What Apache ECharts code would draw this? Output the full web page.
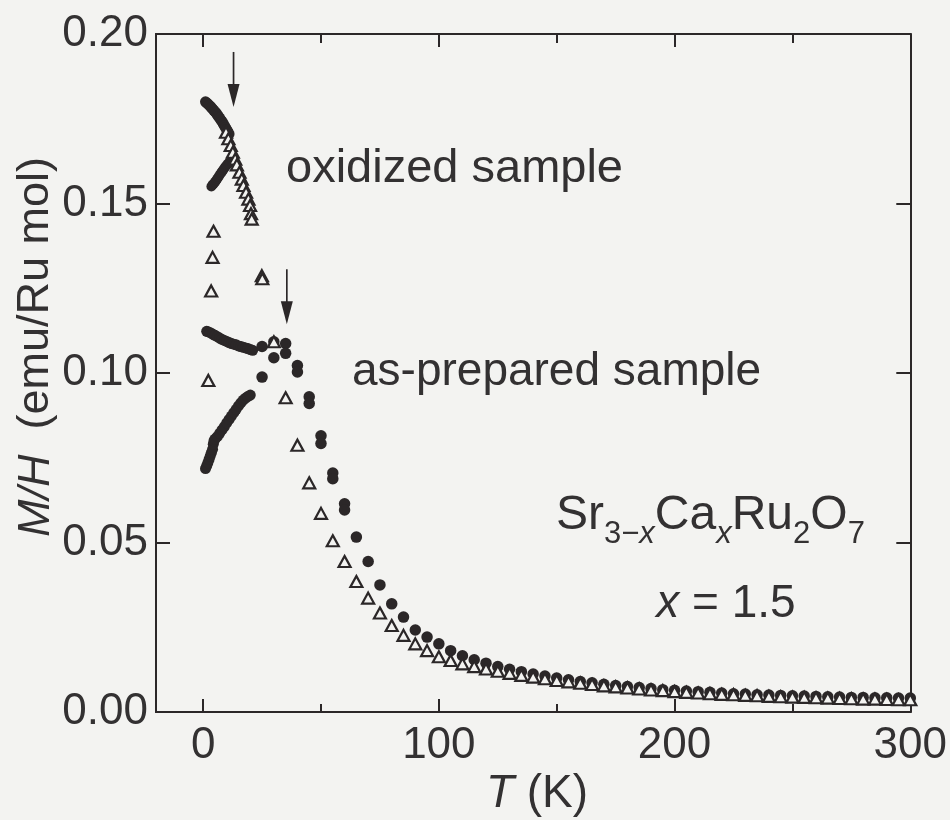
<!DOCTYPE html>
<html>
<head>
<meta charset="utf-8" />
<title>Sr3-xCaxRu2O7 M/H</title>
<script src="https://cdn.jsdelivr.net/npm/echarts@6/dist/echarts.min.js"></script>
<style>
  html, body { margin: 0; padding: 0; background: #f3f3f1; }
  #main { width: 950px; height: 820px; }
</style>
</head>
<body>
<div id="main"></div>
<script>
// axis ticks
var xMajorTicks = [0, 100, 200, 300];
var xMinorTicks = [50, 150, 250];

// oxidized sample, dense filled branch (upper, from lowest T)
var oxUpper = [
  [1.0, 0.1800], [1.5, 0.1797], [2.0, 0.1794], [2.5, 0.1790], [3.0, 0.1787], [3.5, 0.1783],
  [4.0, 0.1779], [4.5, 0.1775], [5.0, 0.1771], [5.5, 0.1767], [6.0, 0.1762], [6.5, 0.1757],
  [7.0, 0.1752], [7.5, 0.1747], [8.0, 0.1742], [8.5, 0.1736], [9.0, 0.1730], [9.5, 0.1724],
  [10.0, 0.1718], [10.5, 0.1712], [11.0, 0.1705]
];
// oxidized sample, dense filled branch (lower)
var oxLower = [
  [3.5, 0.1550], [4.0, 0.1555], [4.5, 0.1558], [5.0, 0.1563], [5.5, 0.1568], [6.0, 0.1573],
  [6.5, 0.1578], [7.0, 0.1584], [7.5, 0.1589], [8.0, 0.1594], [8.5, 0.1599], [9.0, 0.1604],
  [9.5, 0.1609], [10.0, 0.1613], [10.5, 0.1617], [11.0, 0.1620], [11.5, 0.1623], [12.0, 0.1626],
  [12.5, 0.1627], [13.0, 0.1628]
];
// oxidized sample, open triangles
var oxTriangles = [
  [2.2, 0.0978], [3.4, 0.1242], [4.0, 0.1341], [4.4, 0.1418],
  [9.7, 0.1710], [10.7, 0.1691], [11.7, 0.1671], [12.6, 0.1651], [13.6, 0.1631], [14.3, 0.1614],
  [15.4, 0.1592], [16.4, 0.1572], [17.1, 0.1553], [18.2, 0.1533], [19.2, 0.1513], [19.9, 0.1494],
  [20.3, 0.1470], [20.6, 0.1454],
  [24.9, 0.1287], [25.1, 0.1278], [30, 0.1092], [35, 0.0927], [40, 0.0787], [45, 0.0676],
  [50, 0.0586], [55, 0.0505], [60, 0.0444], [65, 0.0385], [70, 0.0336], [75, 0.0292],
  [80, 0.0255], [85, 0.0226], [90, 0.0201], [95, 0.0181], [100, 0.0163], [105, 0.0152],
  [110, 0.0142], [115, 0.0134], [120, 0.0127], [125, 0.0120], [130, 0.0114], [135, 0.0108],
  [140, 0.0103], [145, 0.0098], [150, 0.0093], [155, 0.0089], [160, 0.0085], [165, 0.0081],
  [170, 0.0077], [175, 0.0074], [180, 0.0071], [185, 0.0068], [190, 0.0065], [195, 0.0063],
  [200, 0.0060], [205, 0.0058], [210, 0.0056], [215, 0.0054], [220, 0.0052], [225, 0.0051],
  [230, 0.0049], [235, 0.0048], [240, 0.0046], [245, 0.0045], [250, 0.0044], [255, 0.0043],
  [260, 0.0042], [265, 0.0041], [270, 0.0040], [275, 0.0039], [280, 0.0038], [285, 0.0038],
  [290, 0.0037], [295, 0.0036], [300, 0.0036]
];

// as-prepared sample, dense filled branch (upper)
var apUpper = [
  [1.5, 0.1123], [2, 0.1122], [3, 0.1119], [4, 0.1115], [5, 0.1111], [6, 0.1107], [7, 0.1103],
  [8, 0.1099], [9, 0.1096], [10, 0.1093], [11, 0.1090], [12, 0.1087], [13, 0.1085], [14, 0.1083],
  [15, 0.1080], [16, 0.1078], [17, 0.1076], [18, 0.1074], [19, 0.1072], [20, 0.1069], [21, 0.1067]
];
// as-prepared sample, dense filled branch (lower)
var apLower = [
  [1.0, 0.0718], [1.5, 0.0726], [2.0, 0.0735], [2.5, 0.0745], [3.0, 0.0755], [3.5, 0.0765],
  [4.0, 0.0775], [4.3, 0.0790], [4.6, 0.0800], [5, 0.0805], [6, 0.0812], [7, 0.0822],
  [8, 0.0832], [9, 0.0842], [10, 0.0853], [11, 0.0863], [12, 0.0873], [13, 0.0883],
  [14, 0.0893], [15, 0.0903], [16, 0.0912], [17, 0.0920], [18, 0.0926], [19, 0.0931], [20, 0.0935]
];
// as-prepared sample, filled circles at higher T
var apCircles = [
  [25, 0.1078], [25, 0.0988], [30, 0.1092], [30, 0.1045], [35, 0.1087], [35, 0.1058],
  [40, 0.1022], [40, 0.1003], [45, 0.0930], [45, 0.0910], [50, 0.0815], [50, 0.0792],
  [55, 0.0705], [55, 0.0688], [60, 0.0614], [60, 0.0596], [65, 0.0516], [70, 0.0444],
  [75, 0.0375], [80, 0.0319], [85, 0.0280], [90, 0.0242], [95, 0.0221], [100, 0.0201],
  [105, 0.0181], [110, 0.0166], [115, 0.0154], [120, 0.0144], [125, 0.0134], [130, 0.0126],
  [135, 0.0119], [140, 0.0112], [145, 0.0106], [150, 0.0100], [155, 0.0095], [160, 0.0090],
  [165, 0.0086], [170, 0.0082], [175, 0.0078], [180, 0.0075], [185, 0.0072], [190, 0.0069],
  [195, 0.0066], [200, 0.0064], [205, 0.0062], [210, 0.0060], [215, 0.0058], [220, 0.0056],
  [225, 0.0054], [230, 0.0053], [235, 0.0051], [240, 0.0050], [245, 0.0049], [250, 0.0048],
  [255, 0.0047], [260, 0.0046], [265, 0.0045], [270, 0.0044], [275, 0.0043], [280, 0.0043],
  [285, 0.0042], [290, 0.0042], [295, 0.0041], [300, 0.0041]
];

// arrows: [T, top, tip]
var arrows = [
  [12.9, 0.1947, 0.1785],
  [35.5, 0.1306, 0.1144]
];

var ink = '#2b2728';
var txt = '#333132';
var font = '"Liberation Sans", Arial, Helvetica, sans-serif';

var chart = echarts.init(document.getElementById('main'));

function xAxisDef(pos, ticks, len, labels) {
  return {
    type: 'value', position: pos, min: -20, max: 300,
    axisLine: { show: true, onZero: false, lineStyle: { color: ink, width: 2 } },
    axisTick: { show: true, inside: true, length: len, customValues: ticks, lineStyle: { color: ink, width: 2 } },
    axisLabel: labels ? { show: true, customValues: xMajorTicks, fontSize: 44, fontFamily: font, color: txt, margin: 12 } : { show: false },
    splitLine: { show: false }
  };
}
function yAxisDef(pos, labels) {
  return {
    type: 'value', position: pos, min: 0, max: 0.2, interval: 0.05,
    axisLine: { show: true, onZero: false, lineStyle: { color: ink, width: 2 } },
    axisTick: { show: true, inside: true, length: 14, lineStyle: { color: ink, width: 2 } },
    axisLabel: labels ? { show: true, fontSize: 44, fontFamily: font, color: txt, margin: 8,
      formatter: function (v) { return v.toFixed(2); } } : { show: false },
    splitLine: { show: false }
  };
}

function dots(data, size) {
  return {
    type: 'scatter', data: data, symbol: 'circle', symbolSize: size || 11,
    itemStyle: { color: ink, opacity: 1 }, silent: true, z: 3
  };
}

var option = {
  backgroundColor: '#f3f3f1',
  animation: false,
  grid: { left: 156, right: 39, top: 34, bottom: 108 },
  xAxis: [
    xAxisDef('bottom', xMajorTicks, 13, true),
    xAxisDef('bottom', xMinorTicks, 8, false),
    xAxisDef('top', xMajorTicks, 13, false),
    xAxisDef('top', xMinorTicks, 9, false)
  ],
  yAxis: [yAxisDef('left', true), yAxisDef('right', false)],
  series: [
    dots(oxUpper, 11),
    dots(oxLower, 10),
    dots(apUpper, 11),
    dots(apLower, 11),
    dots(apCircles, 11.5),
    {
      type: 'scatter', data: oxTriangles, symbol: 'triangle', symbolSize: [12, 11],
      itemStyle: { color: '#f3f3f1', borderColor: ink, borderWidth: 2.2, opacity: 1 },
      silent: true, z: 4
    },
    {
      type: 'custom', data: arrows, silent: true, z: 5, clip: false,
      encode: { x: 0, y: 1 },
      renderItem: function (params, api) {
        var a = api.coord([api.value(0), api.value(1)]);
        var b = api.coord([api.value(0), api.value(2)]);
        var head = 23;
        return {
          type: 'group',
          children: [
            { type: 'line', shape: { x1: a[0], y1: a[1], x2: b[0], y2: b[1] - head + 2 },
              style: { stroke: ink, lineWidth: 1.7 } },
            { type: 'polygon', shape: { points: [[b[0] - 6, b[1] - head], [b[0] + 6, b[1] - head], [b[0], b[1]]] },
              style: { fill: ink } }
          ]
        };
      }
    }
  ],
  graphic: [
    { type: 'text', x: 286, y: 169, style: { text: 'oxidized sample', font: '47px ' + font, fill: txt, verticalAlign: 'middle' } },
    { type: 'text', x: 352, y: 372, style: { text: 'as-prepared sample', font: '46px ' + font, fill: txt, verticalAlign: 'middle' } },
    {
      type: 'text', x: 556, y: 492,
      style: {
        text: '{n|Sr}{s|3\u2212}{si|x}{n|Ca}{si|x}{n|Ru}{s|2}{n|O}{s|7}',
        verticalAlign: 'top',
        rich: {
          n: { fontSize: 48, fontFamily: font, fill: txt, lineHeight: 48, verticalAlign: 'top' },
          s: { fontSize: 31, fontFamily: font, fill: txt, lineHeight: 58, verticalAlign: 'bottom' },
          si: { fontSize: 31, fontFamily: font, fontStyle: 'italic', fill: txt, lineHeight: 58, verticalAlign: 'bottom' }
        }
      }
    },
    {
      type: 'text', x: 726, y: 604,
      style: {
        text: '{i|x} = 1.5', align: 'center', verticalAlign: 'middle',
        rich: {
          i: { fontSize: 46, fontFamily: font, fontStyle: 'italic', fill: txt }
        },
        fontSize: 46, fontFamily: font, fill: txt
      }
    },
    {
      type: 'text', x: 537, y: 794,
      style: {
        text: '{i|T} (K)', align: 'center', verticalAlign: 'middle',
        rich: { i: { fontSize: 46, fontFamily: font, fontStyle: 'italic', fill: txt } },
        fontSize: 46, fontFamily: font, fill: txt
      }
    },
    {
      type: 'text', x: 36, y: 347, rotation: Math.PI / 2,
      style: {
        text: '{i|M/H}  (emu/Ru mol)', align: 'center', verticalAlign: 'middle',
        rich: { i: { fontSize: 45, fontFamily: font, fontStyle: 'italic', fill: txt } },
        fontSize: 45, fontFamily: font, fill: txt
      }
    }
  ]
};

chart.setOption(option);
</script>
</body>
</html>
